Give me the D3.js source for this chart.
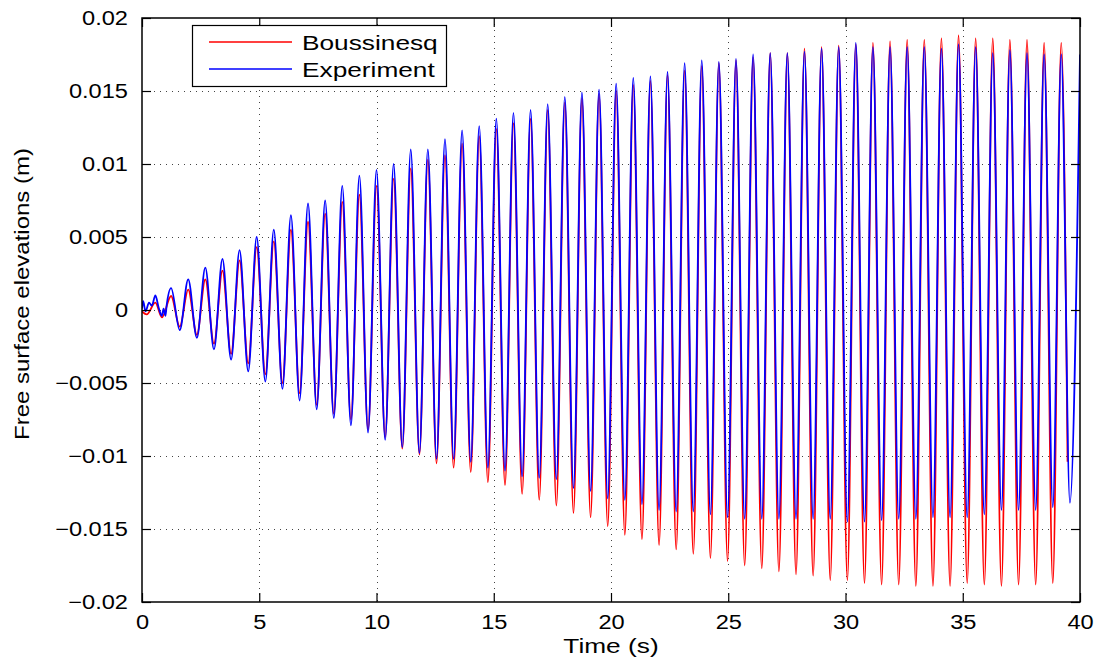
<!DOCTYPE html>
<html><head><meta charset="utf-8">
<script src="https://cdn.jsdelivr.net/npm/d3@7"></script>
<style>
body{margin:0;background:#fff}
svg{display:block}
text{font-family:"Liberation Sans",Arial,Helvetica,sans-serif;fill:#000}
</style>
</head><body>
<svg id="chart" width="1099" height="661"></svg>
<script>
// ---------- data ----------
const xTicks = [0, 5, 10, 15, 20, 25, 30, 35, 40];
const xTickLabels = ["0", "5", "10", "15", "20", "25", "30", "35", "40"];
const yTicks = [-0.02, -0.015, -0.01, -0.005, 0, 0.005, 0.01, 0.015, 0.02];
const yTickLabels = ["\u22120.02", "\u22120.015", "\u22120.01", "\u22120.005", "0", "0.005", "0.01", "0.015", "0.02"];
const seriesNames = ["Boussinesq", "Experiment"];
const xLabel = "Time (s)";
const yLabel = "Free surface elevations (m)";

// times of crests and troughs (s)
const peakTimes = [1.24,1.97,2.70,3.43,4.16,4.89,5.62,6.35,7.08,7.81,8.54,9.27,10.00,10.73,11.46,12.19,12.92,
  13.65,14.38,15.11,15.84,16.57,17.30,18.03,18.76,19.49,20.22,20.95,21.68,22.41,23.14,23.87,24.60,25.33,26.06,
  26.79,27.52,28.25,28.98,29.71,30.44,31.17,31.90,32.63,33.36,34.09,34.82,35.55,36.28,37.01,37.74,38.47,39.20];
const troughTimes = [1.61,2.34,3.07,3.80,4.53,5.26,5.99,6.72,7.45,8.18,8.91,9.64,10.37,11.10,11.83,12.56,13.29,
  14.02,14.75,15.48,16.21,16.94,17.67,18.40,19.13,19.86,20.59,21.32,22.05,22.78,23.51,24.24,24.97,25.70,26.43,
  27.16,27.89,28.62,29.35,30.08,30.81,31.54,32.27,33.00,33.73,34.46,35.19,35.92,36.65,37.38,38.11,38.84,39.57];

// Boussinesq (red)
const boussinesqStartTime = [0, 0.2, 0.57, 0.85];
const boussinesqStart = [-0.0001, -0.0003, 0.0005, -0.0005];
const boussinesqPeaks = [0.00096,0.0014,0.0021,0.0027,0.0034,0.0043,0.0047,0.0055,
  0.00605,0.0066,0.0074,0.0079,0.0085,0.0090,0.0097,0.0103,0.0106,
  0.0114,0.0119,0.0124,0.0128,0.0131,0.0137,0.0142,0.0145,0.0148,
  0.0150,0.0154,0.0157,0.0161,0.0164,0.0167,0.0169,0.0171,0.0173,
  0.0176,0.0176,0.0179,0.0180,0.0181,0.0182,0.0183,0.0184,0.0185,
  0.0185,0.0186,0.0188,0.0186,0.0186,0.0185,0.0185,0.0183,0.0183];
const boussinesqTroughs = [-0.00114,-0.0017,-0.0023,-0.0030,-0.00365,-0.0044,-0.0050,-0.0057,
  -0.0065,-0.0071,-0.0075,-0.0082,-0.0087,-0.0095,-0.0099,-0.0105,-0.0108,
  -0.0111,-0.0118,-0.0120,-0.0126,-0.0130,-0.0134,-0.0139,-0.0142,-0.0148,
  -0.0154,-0.0157,-0.0161,-0.0164,-0.0167,-0.0170,-0.0172,-0.0175,-0.0177,
  -0.0179,-0.0181,-0.0182,-0.0185,-0.0185,-0.0187,-0.0188,-0.0188,-0.0189,
  -0.0189,-0.0189,-0.0187,-0.0188,-0.0189,-0.0188,-0.0188,-0.0187];
const boussinesqEndTime = [39.47];
const boussinesqEnd = [-0.0104];

// Experiment (blue)
const experimentStartTime = [0, 0.05, 0.15, 0.3, 0.42, 0.57, 0.72, 0.85, 0.92, 1.0, 1.05];
const experimentStart = [0.0001, 0.0006, -0.0001, 0.0005, 0.0003, 0.0010, 0.0001, -0.0004, 0.0001, -0.0004, 0.0003];
const experimentPeaks = [0.0015,0.0021,0.0029,0.0035,0.0041,0.0050,0.0055,0.0065,
  0.0073,0.0075,0.0085,0.0092,0.0096,0.0100,0.0110,0.0110,0.0117,
  0.0123,0.0126,0.0131,0.0135,0.0137,0.0141,0.0146,0.0149,0.0151,
  0.0155,0.0159,0.0160,0.0163,0.0169,0.0171,0.0170,0.0172,0.0175,
  0.0176,0.0176,0.0177,0.0179,0.0180,0.0183,0.0180,0.0180,0.0180,
  0.0180,0.0179,0.0182,0.0180,0.0176,0.0178,0.0176,0.0175,0.0175];
const experimentTroughs = [-0.00137,-0.0019,-0.0027,-0.0034,-0.0042,-0.0049,-0.0054,-0.0062,
  -0.0068,-0.0074,-0.0079,-0.0084,-0.0089,-0.0094,-0.0098,-0.0102,-0.0102,
  -0.0104,-0.0108,-0.0110,-0.0114,-0.0115,-0.0116,-0.0122,-0.0124,-0.0129,
  -0.0130,-0.0133,-0.0137,-0.0138,-0.0138,-0.0140,-0.0142,-0.0143,-0.0143,
  -0.0143,-0.0143,-0.0143,-0.0143,-0.0145,-0.0145,-0.0144,-0.0143,-0.0143,
  -0.0142,-0.0142,-0.0142,-0.0140,-0.0137,-0.0137,-0.0137,-0.0135,-0.0132];
const experimentEndTime = [40.0];
const experimentEnd = [0.0175];

// ---------- build point lists ----------
function buildSeries(st, sv, peaks, troughs, et, ev) {
  const pts = st.map((t, i) => ({t, v: sv[i]}));
  for (let k = 0; k < peaks.length; k++) {
    pts.push({t: peakTimes[k], v: peaks[k]});
    if (k < troughs.length) pts.push({t: troughTimes[k], v: troughs[k]});
  }
  et.forEach((t, i) => pts.push({t, v: ev[i]}));
  return pts;
}
const boussinesq = buildSeries(boussinesqStartTime, boussinesqStart, boussinesqPeaks, boussinesqTroughs, boussinesqEndTime, boussinesqEnd);
const experiment = buildSeries(experimentStartTime, experimentStart, experimentPeaks, experimentTroughs, experimentEndTime, experimentEnd);

// ---------- layout ----------
const L = 142, R = 1080, T = 18, B = 602;
const svg = d3.select("#chart");
const x = d3.scaleLinear().domain([0, 40]).range([L, R]);
const y = d3.scaleLinear().domain([-0.02, 0.02]).range([B, T]);
const HS = 1.18; // horizontal text stretch

function stretch(sel, f) {
  sel.each(function () {
    const w = this.getComputedTextLength();
    d3.select(this).attr("textLength", w * f).attr("lengthAdjust", "spacingAndGlyphs");
  });
}

// grid
const grid = svg.append("g").attr("stroke", "#444").attr("stroke-width", 1).attr("stroke-dasharray", "1,5");
grid.selectAll("line.gx").data(xTicks.slice(1, -1)).join("line")
  .attr("x1", d => Math.round(x(d)) + 0.5).attr("x2", d => Math.round(x(d)) + 0.5).attr("y1", T).attr("y2", B);
grid.selectAll("line.gy").data(yTicks.slice(1, -1)).join("line")
  .attr("y1", d => Math.round(y(d)) + 0.5).attr("y2", d => Math.round(y(d)) + 0.5).attr("x1", L).attr("x2", R);

// lines
svg.append("clipPath").attr("id", "clip").append("rect").attr("x", L).attr("y", T).attr("width", R - L).attr("height", B - T);
const line = d3.line().x(d => x(d.t)).y(d => y(d.v)).curve(d3.curveMonotoneX);
const plot = svg.append("g").attr("clip-path", "url(#clip)");
plot.append("path").datum(boussinesq).attr("d", line).attr("fill", "none").attr("stroke", "#ff0000").attr("stroke-width", 1.8).attr("stroke-linejoin", "round");
plot.append("path").datum(experiment).attr("d", line).attr("fill", "none").attr("stroke", "#0000ff").attr("stroke-width", 1.8).attr("stroke-linejoin", "round");

// axes (inward ticks on all sides)
const tickLen = 9;
const axB = svg.append("g").attr("transform", `translate(0,${B})`)
  .call(d3.axisBottom(x).tickValues(xTicks).tickFormat((d, i) => xTickLabels[i]).tickSizeInner(-tickLen).tickSizeOuter(0).tickPadding(13));
const axT = svg.append("g").attr("transform", `translate(0,${T})`)
  .call(d3.axisTop(x).tickValues(xTicks).tickFormat("").tickSizeInner(-tickLen).tickSizeOuter(0));
const axL = svg.append("g").attr("transform", `translate(${L},0)`)
  .call(d3.axisLeft(y).tickValues(yTicks).tickFormat((d, i) => yTickLabels[i]).tickSizeInner(-tickLen).tickSizeOuter(0).tickPadding(14));
const axR = svg.append("g").attr("transform", `translate(${R},0)`)
  .call(d3.axisRight(y).tickValues(yTicks).tickFormat("").tickSizeInner(-tickLen).tickSizeOuter(0));
[axB, axT, axL, axR].forEach(a => {
  a.select(".domain").remove();
  a.selectAll(".tick line").attr("stroke", "#000").attr("stroke-width", 1.2);
  a.selectAll("text").attr("font-size", 20).attr("font-family", '"Liberation Sans",Arial,sans-serif').attr("fill", "#000");
});
axB.selectAll("text").attr("dy", "0.71em");
stretch(axB.selectAll("text"), HS);
stretch(axL.selectAll("text"), HS);

// box
svg.append("rect").attr("x", L).attr("y", T).attr("width", R - L).attr("height", B - T)
  .attr("fill", "none").attr("stroke", "#000").attr("stroke-width", 1.5);

// axis labels
const xl = svg.append("text").attr("x", (L + R) / 2).attr("y", 653).attr("text-anchor", "middle").attr("font-size", 21).text(xLabel);
stretch(xl, 1.25);
const yl = svg.append("text").attr("transform", `translate(29,294) rotate(-90)`)
  .attr("text-anchor", "middle").attr("font-size", 21).text(yLabel);
yl.attr("textLength", 292).attr("lengthAdjust", "spacingAndGlyphs");

// legend
const lg = svg.append("g");
lg.append("rect").attr("x", 192.5).attr("y", 25.5).attr("width", 254).attr("height", 61).attr("fill", "#fff").attr("stroke", "#000").attr("stroke-width", 1.2);
const legendColors = ["#ff0000", "#0000ff"];
const legendY = [42, 69];
seriesNames.forEach((name, i) => {
  lg.append("line").attr("x1", 209).attr("x2", 292).attr("y1", legendY[i]).attr("y2", legendY[i]).attr("stroke", legendColors[i]).attr("stroke-width", 1.3);
  const t = lg.append("text").attr("x", 302).attr("y", legendY[i]).attr("dy", "0.36em").attr("font-size", 21).text(name);
  stretch(t, 1.25);
});
</script>
</body></html>
